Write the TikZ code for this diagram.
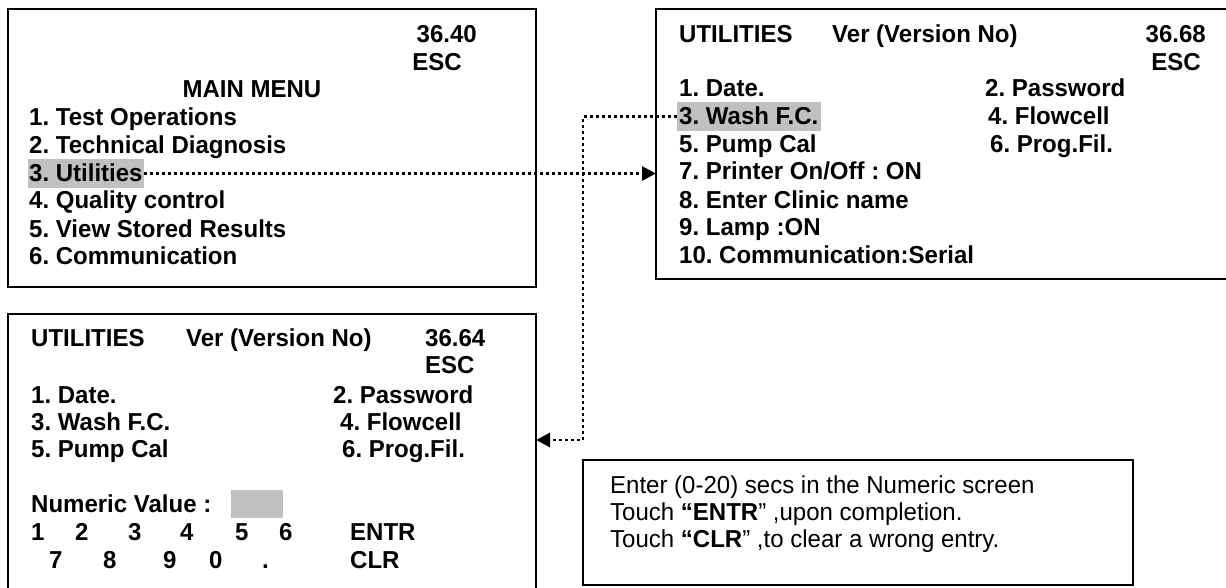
\documentclass[tikz,border=0pt]{standalone}
\usepackage{fontspec}
\setmainfont{Liberation Sans}[FakeStretch=0.98]
\usetikzlibrary{arrows.meta}
\definecolor{hilite}{RGB}{192,192,192}
\tikzset{
  screen/.style={draw, line width=2.5pt, inner sep=0pt, outer sep=0pt, anchor=north west},
  txt/.style={inner sep=0pt, anchor=base west, font=\fontsize{24.5}{27.5}\selectfont\bfseries\frenchspacing},
  txtr/.style={txt, anchor=base east},
  notetxt/.style={inner sep=0pt, anchor=base west, font=\fontsize{24.5}{27.5}\selectfont\frenchspacing},
  hl/.style={txt, fill=hilite, inner xsep=1.5pt, inner ysep=0.5pt, text height=22.5pt, text depth=5.5pt},
  field/.style={fill=hilite, inner sep=0pt, outer sep=0pt, anchor=north west},
  flow/.style={line width=2.8pt, dash pattern=on 2.8pt off 3.2pt, -{Triangle[length=14pt,width=14pt]}},
}
\begin{document}
\begin{tikzpicture}[x=1pt, y=-1pt]
\useasboundingbox (0,0) rectangle (1226,588);

% ---- main menu screen ----
\node[screen, minimum width=528pt, minimum height=278pt] (menu) at (8,9) {};
\node[txtr] (menuver) at (477,43) {36.40};
\node[txtr] (menuesc) at (462,71) {ESC};
\node[txt, anchor=base] (menutitle) at (252,98) {MAIN MENU};
\node[txt] (m1) at (29,126) {1. Test Operations};
\node[txt] (m2) at (29,154) {2. Technical Diagnosis};
\node[hl]  (m3) at (27.5,182) {3. Utilities};
\node[txt] (m4) at (29,209) {4. Quality control};
\node[txt] (m5) at (29,237) {5. View Stored Results};
\node[txt] (m6) at (29,265) {6. Communication};

% ---- utilities screen ----
\node[screen, minimum width=584pt, minimum height=270pt] (util) at (656,9) {};
\node[txt]  (uhead) at (679,43) {UTILITIES};
\node[txt]  (uver)  at (832,43) {Ver (Version No)};
\node[txtr] (unum)  at (1206,43) {36.68};
\node[txtr] (uesc)  at (1201,71) {ESC};
\node[txt] (u1) at (679,97) {1. Date.};
\node[txt] (u2) at (985,97) {2. Password};
\node[hl, inner xsep=2.5pt]  (u3) at (676.5,125) {3. Wash F.C.};
\node[txt] (u4) at (988,125) {4. Flowcell};
\node[txt] (u5) at (679,153) {5. Pump Cal};
\node[txt] (u6) at (990,153) {6. Prog.Fil.};
\node[txt] (u7) at (679,180) {7. Printer On/Off : ON};
\node[txt] (u8) at (679,208) {8. Enter Clinic name};
\node[txt] (u9) at (679,236) {9. Lamp :ON};
\node[txt] (u10) at (679,263) {10. Communication:Serial};

% ---- wash flowcell screen ----
\node[screen, minimum width=528pt, minimum height=290pt] (wash) at (8,314) {};
\node[txt] (whead) at (31,346) {UTILITIES};
\node[txt] (wver)  at (186,346) {Ver (Version No)};
\node[txt] (wnum)  at (425,346) {36.64};
\node[txt] (wesc)  at (425,373) {ESC};
\node[txt] (w1) at (31,403) {1. Date.};
\node[txt] (w2) at (333,403) {2. Password};
\node[txt] (w3) at (31,430) {3. Wash F.C.};
\node[txt] (w4) at (340,430) {4. Flowcell};
\node[txt] (w5) at (31,457) {5. Pump Cal};
\node[txt] (w6) at (342,457) {6. Prog.Fil.};
\node[txt] (wnv) at (31,512) {Numeric Value :};
\node[field, minimum width=52pt, minimum height=28pt] (wfield) at (231,490) {};
% keypad
\node[txt] (k1) at (31,540) {1};
\node[txt] (k2) at (75,540) {2};
\node[txt] (k3) at (128,540) {3};
\node[txt] (k4) at (180,540) {4};
\node[txt] (k5) at (235,540) {5};
\node[txt] (k6) at (279,540) {6};
\node[txt] (kentr) at (350,540) {ENTR};
\node[txt] (k7) at (49,568) {7};
\node[txt] (k8) at (103,568) {8};
\node[txt] (k9) at (163,568) {9};
\node[txt] (k0) at (209,568) {0};
\node[txt] (kdot) at (262,568) {.};
\node[txt] (kclr) at (350,568) {CLR};

% ---- instruction note ----
\node[screen, minimum width=550pt, minimum height=125pt] (note) at (583,460) {};
\node[notetxt] (n1) at (610,493) {Enter (0-20) secs in the Numeric screen};
\node[notetxt] (n2) at (610,520) {Touch \textbf{“ENTR}” ,upon completion.};
\node[notetxt] (n3) at (610,547) {Touch \textbf{“CLR}” ,to clear a wrong entry.};

% ---- navigation ----
\coordinate (elbow) at (583,440);
\draw[flow] (m3.east) -- (m3.east -| util.west);
\draw[flow] (u3.west) -| (elbow) -- (elbow -| wash.east);
\end{tikzpicture}
\end{document}
